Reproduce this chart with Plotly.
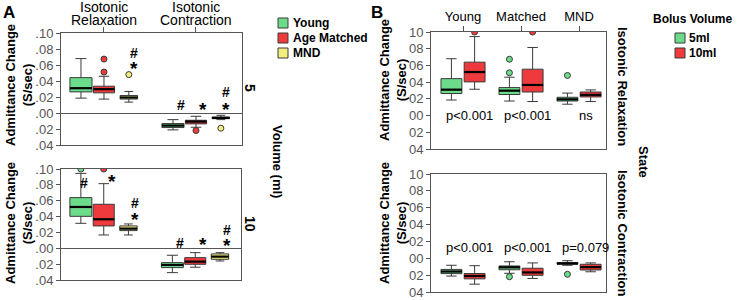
import plotly.graph_objects as go

# ---------------- data ----------------
groups = ["Young", "Age Matched", "MND"]
states = ["Isotonic Relaxation", "Isotonic Contraction"]
b_groups = ["Young", "Matched", "MND"]
volumes = ["5ml", "10ml"]
y_ticks = [0.10, 0.08, 0.06, 0.04, 0.02, 0.00, -0.02, -0.04]
a_tick_text = [".10", ".08", ".06", ".04", ".02", ".00", ".02", ".04"]
b_tick_text = ["10", "08", "06", "04", "02", "00", "02", "04"]

# Volume 5 ml - Isotonic Relaxation (Young, Age Matched, MND)
rel5_lo = [0.0186, 0.0174, 0.0136]
rel5_q1 = [0.0264, 0.0252, 0.0174]
rel5_med = [0.0310, 0.0298, 0.0194]
rel5_q3 = [0.0442, 0.0335, 0.0219]
rel5_hi = [0.0680, 0.0459, 0.0269]
rel5_out = [[], [0.0674, 0.0512], [0.0480]]

# Volume 5 ml - Isotonic Contraction
con5_lo = [-0.0211, -0.0178, -0.0083]
con5_q1 = [-0.0182, -0.0136, -0.0070]
con5_med = [-0.0157, -0.0107, -0.0062]
con5_q3 = [-0.0132, -0.0091, -0.0050]
con5_hi = [-0.0083, -0.0041, -0.0029]
con5_out = [[], [-0.0219], [-0.0190]]

# Volume 10 ml - Isotonic Relaxation
rel10_lo = [0.0315, 0.0168, 0.0168]
rel10_q1 = [0.0403, 0.0282, 0.0223]
rel10_med = [0.0521, 0.0366, 0.0248]
rel10_q3 = [0.0639, 0.0555, 0.0282]
rel10_hi = [0.0945, 0.0815, 0.0307]
rel10_out = [[0.100], [0.100], []]

# Volume 10 ml - Isotonic Contraction
con10_lo = [-0.0307, -0.0239, -0.0160]
con10_q1 = [-0.0244, -0.0202, -0.0139]
con10_med = [-0.0210, -0.0168, -0.0105]
con10_q3 = [-0.0181, -0.0118, -0.0071]
con10_hi = [-0.0088, -0.0055, -0.0055]
con10_out = [[], [], []]

# significance marks (panel A): (volume panel, state, group, symbol)
sig_marks = [
    (0, 0, 2, "#"), (0, 0, 2, "*"),
    (0, 1, 0, "#"), (0, 1, 1, "*"), (0, 1, 2, "#"), (0, 1, 2, "*"),
    (1, 0, 0, "#"), (1, 0, 1, "*"), (1, 0, 2, "#"), (1, 0, 2, "*"),
    (1, 1, 0, "#"), (1, 1, 1, "*"), (1, 1, 2, "#"), (1, 1, 2, "*"),
]
# label placement (value-axis height of each mark, and sideways nudge)
sig_y = [0.075, 0.062, 0.0099, 0.011, 0.026, 0.011,
         0.082, 0.090, 0.0576, 0.042, 0.007, 0.0105, 0.023, 0.0097]
sig_dx = [0.06, 0.06, 0.09, 0.08, 0.06, 0.06,
          0.03, 0.09, 0.07, 0.07, 0.08, 0.08, 0.08, 0.08]

# p-values (panel B): per group
p_rel = ["p<0.001", "p<0.001", "ns"]
p_con = ["p<0.001", "p<0.001", "p=0.079"]

# ---------------- style ----------------
W, H = 737, 300
FONT = "Liberation Sans, Arial, sans-serif"
group_colors = ["#6cdc8a", "#ee3a3d", "#f3ee7c"]
vol_colors = ["#6cdc8a", "#ee3a3d"]
EDGE = "#3a3a3a"
AXC = "#555555"
TICKC = "#555555"

a_off = [-0.25, 0.0, 0.27]
a_wid = [0.24, 0.23, 0.19]
b_off = [-0.2, 0.2]
b_wid = [0.36, 0.36]


def fx(p):
    return p / W


def fy(p):
    return 1 - p / H


fig = go.Figure()


def add_boxes(xa, ya, pos, width, color, lo, q1, med, q3, hi, outs):
    fig.add_trace(go.Box(
        x=pos, q1=q1, median=med, q3=q3, lowerfence=lo, upperfence=hi,
        width=width, whiskerwidth=0.5, fillcolor=color,
        line=dict(color=EDGE, width=1), boxpoints=False,
        xaxis=xa, yaxis=ya, showlegend=False, hoverinfo="skip"))
    mx, my = [], []
    for p, m in zip(pos, med):
        mx += [p - width / 2, p + width / 2, None]
        my += [m, m, None]
    fig.add_trace(go.Scatter(x=mx, y=my, mode="lines",
                             line=dict(color="black", width=2.2),
                             xaxis=xa, yaxis=ya, showlegend=False, hoverinfo="skip"))
    ox, oy = [], []
    for p, vals in zip(pos, outs):
        for v in vals:
            ox.append(p)
            oy.append(v)
    if ox:
        fig.add_trace(go.Scatter(x=ox, y=oy, mode="markers",
                                 marker=dict(size=6, color=color, line=dict(color=EDGE, width=1)),
                                 xaxis=xa, yaxis=ya, showlegend=False, hoverinfo="skip"))


# Panel A: volume 5 (x/y) and volume 10 (x2/y2)
a_axes = [("x", "y"), ("x2", "y2")]
panel_a = [
    ((rel5_lo, rel5_q1, rel5_med, rel5_q3, rel5_hi, rel5_out),
     (con5_lo, con5_q1, con5_med, con5_q3, con5_hi, con5_out)),
    ((rel10_lo, rel10_q1, rel10_med, rel10_q3, rel10_hi, rel10_out),
     (con10_lo, con10_q1, con10_med, con10_q3, con10_hi, con10_out)),
]
annotations = []
for (xa, ya), (rel, con) in zip(a_axes, panel_a):
    for g in range(3):
        pos = [0 + a_off[g], 1 + a_off[g]]
        stats = [[rel[k][g], con[k][g]] for k in range(5)]
        outs = [rel[5][g], con[5][g]]
        add_boxes(xa, ya, pos, a_wid[g], group_colors[g], *stats, outs)

for (vp, st, g, sym), yv, dx in zip(sig_marks, sig_y, sig_dx):
    xa, ya = a_axes[vp]
    annotations.append(dict(
        x=st + a_off[g] + dx, y=yv, xref=xa, yref=ya, text="<b>%s</b>" % sym,
        showarrow=False, yanchor="middle",
        yshift=-5 if sym == "*" else 0,
        font=dict(size=19 if sym == "*" else 14, color="black", family=FONT)))

# Panel B: relaxation (x3/y3), contraction (x4/y4); 5ml vs 10ml
panel_b = [
    ("x3", "y3", (rel5_lo, rel5_q1, rel5_med, rel5_q3, rel5_hi, rel5_out),
     (rel10_lo, rel10_q1, rel10_med, rel10_q3, rel10_hi, rel10_out), p_rel, 0.0),
    ("x4", "y4", (con5_lo, con5_q1, con5_med, con5_q3, con5_hi, con5_out),
     (con10_lo, con10_q1, con10_med, con10_q3, con10_hi, con10_out), p_con, 0.013),
]
for xa, ya, v5, v10, pv, py_ in panel_b:
    for vi, data in enumerate([v5, v10]):
        pos = [g + b_off[vi] for g in range(3)]
        add_boxes(xa, ya, pos, b_wid[vi], vol_colors[vi], *data[:5], data[5])
    for g in range(3):
        annotations.append(dict(
            x=g + 0.12, y=py_, xref=xa, yref=ya, text=pv[g], showarrow=False,
            font=dict(size=13, color="black", family=FONT)))

# ---------------- axes ----------------
axis_common = dict(showline=True, linecolor=AXC, linewidth=1, mirror=True,
                   showgrid=False, zeroline=False, automargin=False)
y_common = dict(axis_common, range=[-0.04, 0.10], tickvals=y_ticks, ticks="outside",
                ticklen=4, tickcolor=AXC, tickfont=dict(size=13, color=TICKC, family=FONT))

fig.update_layout(
    width=W, height=H, margin=dict(l=0, r=0, t=0, b=0, autoexpand=False),
    paper_bgcolor="white", plot_bgcolor="white", showlegend=False,
    xaxis=dict(axis_common, domain=[fx(61), fx(242)], range=[-0.467, 1.5], anchor="y",
               side="top", tickvals=[0, 1], ticks="outside", ticklen=5, tickcolor=AXC,
               showticklabels=False),
    yaxis=dict(y_common, domain=[fy(145), fy(33)], anchor="x", ticktext=a_tick_text,
               zeroline=True, zerolinecolor=AXC, zerolinewidth=1),
    xaxis2=dict(axis_common, domain=[fx(61), fx(241)], range=[-0.467, 1.5], anchor="y2",
                ticks="", showticklabels=False),
    yaxis2=dict(y_common, domain=[fy(280), fy(169)], anchor="x2", ticktext=a_tick_text,
                zeroline=True, zerolinecolor=AXC, zerolinewidth=1),
    xaxis3=dict(axis_common, domain=[fx(431), fx(606)], range=[-0.552, 2.465], anchor="y3",
                side="top", tickvals=[0, 1, 2], ticktext=b_groups, ticks="outside", ticklen=5,
                tickcolor=AXC, tickfont=dict(size=13, color="black", family=FONT)),
    yaxis3=dict(y_common, domain=[fy(149), fy(32)], anchor="x3", ticktext=b_tick_text),
    xaxis4=dict(axis_common, domain=[fx(431), fx(606)], range=[-0.552, 2.465], anchor="y4",
                ticks="", showticklabels=False),
    yaxis4=dict(y_common, domain=[fy(292), fy(174)], anchor="x4", ticktext=b_tick_text),
)

# ---------------- text ----------------
def pa(text, x, y, size=13, bold=False, angle=0, xanchor="center", color="black"):
    annotations.append(dict(
        x=fx(x), y=fy(y), xref="paper", yref="paper", showarrow=False,
        text="<b>%s</b>" % text if bold else text, textangle=angle,
        xanchor=xanchor, yanchor="middle", font=dict(size=size, color=color, family=FONT)))


pa("A", 9, 12, size=17, bold=True)
pa("B", 377, 12, size=17, bold=True)
for ci, st in enumerate(states):
    w1, w2 = st.split(" ")
    annotations.append(dict(x=ci, y=fy(7), xref="x", yref="paper", text=w1, showarrow=False,
                            yanchor="middle", font=dict(size=14, color="black", family=FONT)))
    annotations.append(dict(x=ci, y=fy(20), xref="x", yref="paper", text=w2, showarrow=False,
                            yanchor="middle", font=dict(size=14, color="black", family=FONT)))

pa("Admittance Change<br>(S/sec)", 19, 85, bold=True, angle=-90)
pa("Admittance Change<br>(S/sec)", 19, 223, bold=True, angle=-90)
pa("Admittance Change<br>(S/sec)", 393, 80, bold=True, angle=-90)
pa("Admittance Change<br>(S/sec)", 393, 223, bold=True, angle=-90)
pa("5", 250, 88, size=14, bold=True, angle=90)
pa("10", 250, 224, size=14, bold=True, angle=90)
pa("Volume (ml)", 278, 161, bold=True, angle=90)
pa("Isotonic Relaxation", 622, 86, bold=True, angle=90)
pa("Isotonic Contraction", 622, 233, bold=True, angle=90)
pa("State", 644, 162, bold=True, angle=90)

# legends
shapes = []
for g, name in enumerate(groups):
    yc = 23 + 15 * g
    shapes.append(dict(type="rect", xref="paper", yref="paper",
                       x0=fx(278), x1=fx(288), y0=fy(yc + 5), y1=fy(yc - 5),
                       fillcolor=group_colors[g], line=dict(color=EDGE, width=1)))
    pa(name, 291, yc, size=12, bold=True, xanchor="left")

pa("Bolus Volume", 692, 19, size=12, bold=True)
for v, name in enumerate(volumes):
    yc = 38 + 15 * v
    shapes.append(dict(type="rect", xref="paper", yref="paper",
                       x0=fx(675), x1=fx(685), y0=fy(yc + 5), y1=fy(yc - 5),
                       fillcolor=vol_colors[v], line=dict(color=EDGE, width=1)))
    pa(name, 687, yc, size=12, bold=True, xanchor="left")

fig.update_layout(annotations=annotations, shapes=shapes)
fig.write_html("out.html", config={"displayModeBar": False},
               post_script="document.body.style.margin='0';document.body.style.padding='0';")
